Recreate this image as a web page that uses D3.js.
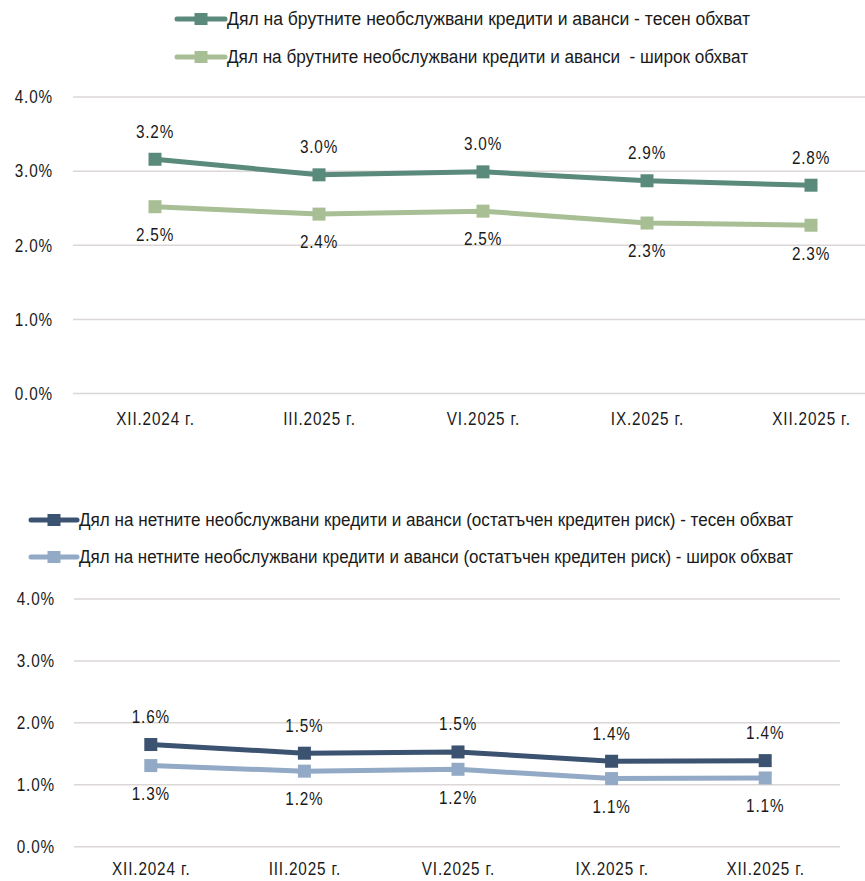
<!DOCTYPE html>
<html><head><meta charset="utf-8">
<script src="https://cdn.jsdelivr.net/npm/d3@7"></script>
<style>
html,body{margin:0;padding:0;background:#fff;}
text{font-family:"Liberation Sans",Arial,sans-serif;fill:#1a1a1a;}
</style></head>
<body>
<script>
const categories = ["XII.2024 г.", "III.2025 г.", "VI.2025 г.", "IX.2025 г.", "XII.2025 г."];
const yTicks = [0, 1, 2, 3, 4];

const grossNarrowName = "Дял на брутните необслужвани кредити и аванси - тесен обхват";
const grossBroadName = "Дял на брутните необслужвани кредити и аванси  - широк обхват";
const grossNarrow = [3.16, 2.95, 2.99, 2.87, 2.81];
const grossBroad = [2.52, 2.42, 2.46, 2.30, 2.27];
const grossLabelsNarrow = ["3.2%", "3.0%", "3.0%", "2.9%", "2.8%"];
const grossLabelsBroad = ["2.5%", "2.4%", "2.5%", "2.3%", "2.3%"];

const netNarrowName = "Дял на нетните необслужвани кредити и аванси (остатъчен кредитен риск) - тесен обхват";
const netBroadName = "Дял на нетните необслужвани кредити и аванси (остатъчен кредитен риск) - широк обхват";
const netNarrow = [1.65, 1.51, 1.53, 1.38, 1.39];
const netBroad = [1.31, 1.22, 1.25, 1.10, 1.11];
const netLabelsNarrow = ["1.6%", "1.5%", "1.5%", "1.4%", "1.4%"];
const netLabelsBroad = ["1.3%", "1.2%", "1.2%", "1.1%", "1.1%"];

const W = 865, H = 881;
const FS = "18px", LS = "1px", SX = 0.85;
const svg = d3.select("body").append("svg").attr("width", W).attr("height", H);

function panel(cfg) {
  const g = svg.append("g");
  const x = d3.scalePoint().domain(categories).range([cfg.x0, cfg.x1]).padding(0.5);
  const y = d3.scaleLinear().domain([0, 4]).range([cfg.yBottom, cfg.yTop]);
  g.append("g").selectAll("line").data(yTicks).join("line")
    .attr("x1", cfg.x0).attr("x2", cfg.gridEnd)
    .attr("y1", d => y(d)).attr("y2", d => y(d))
    .attr("stroke", "#dcd6d6").attr("stroke-width", 1.5);
  const ya = g.append("g").attr("transform", `translate(${cfg.x0},0)`)
    .call(d3.axisLeft(y).tickValues(yTicks).tickSize(0).tickPadding(cfg.yPad).tickFormat(d => d.toFixed(1) + "%"));
  ya.attr("font-family", null).attr("font-size", null);
  ya.select(".domain").remove();
  ya.selectAll("text").style("font-size", FS).style("letter-spacing", LS).attr("fill", "#1a1a1a")
    .attr("x", -cfg.yPad / SX).attr("transform", `scale(${SX},1)`);
  const xa = g.append("g").attr("transform", `translate(0,${cfg.xLabelY})`)
    .call(d3.axisBottom(x).tickSize(0).tickPadding(0));
  xa.attr("font-family", null).attr("font-size", null);
  xa.select(".domain").remove();
  xa.selectAll("text").style("font-size", FS).style("letter-spacing", LS).attr("fill", "#1a1a1a")
    .attr("dy", "0.35em").attr("transform", `scale(${SX},1)`);

  const line = d3.line().x((d, i) => x(categories[i])).y(d => y(d));
  cfg.series.forEach(s => {
    g.append("path").datum(s.values).attr("d", line)
      .attr("fill", "none").attr("stroke", s.color).attr("stroke-width", 5).attr("stroke-linejoin", "round");
    g.append("g").selectAll("rect").data(s.values).join("rect")
      .attr("x", (d, i) => x(categories[i]) - 6.5).attr("y", d => y(d) - 6.5)
      .attr("width", 13).attr("height", 13).attr("fill", s.color);
    g.append("g").selectAll("text").data(s.values).join("text")
      .attr("transform", (d, i) => `translate(${x(categories[i])},${y(d) + (s.above ? -28 : 28)}) scale(${SX},1)`)
      .attr("dy", "0.35em").attr("text-anchor", "middle")
      .style("font-size", FS).style("letter-spacing", LS)
      .text((d, i) => s.labels[i]);
  });
  cfg.series.forEach((s, k) => {
    const ly = cfg.legendY[k];
    const lg = g.append("g");
    lg.append("line").attr("x1", cfg.legX0).attr("x2", cfg.legX0 + cfg.legLen).attr("y1", ly).attr("y2", ly)
      .attr("stroke", s.color).attr("stroke-width", 5).attr("stroke-linecap", "round");
    lg.append("rect").attr("x", cfg.legX0 + cfg.legLen / 2 - 6.5).attr("y", ly - 6).attr("width", 13).attr("height", 12).attr("fill", s.color);
    lg.append("text").attr("x", cfg.legX0 + cfg.legLen + 2).attr("y", ly).attr("dy", "0.35em")
      .style("font-size", FS).style("white-space", "pre")
      .attr("textLength", cfg.legW[k]).attr("lengthAdjust", "spacingAndGlyphs")
      .text(s.name);
  });
}

panel({
  x0: 73, x1: 893, gridEnd: 865, yTop: 97, yBottom: 393.5, yPad: 20, xLabelY: 419,
  legX0: 177, legLen: 48, legendY: [19, 57], legW: [523, 521],
  series: [
    {name: grossNarrowName, values: grossNarrow, labels: grossLabelsNarrow, color: "#5a8a7b", above: true},
    {name: grossBroadName, values: grossBroad, labels: grossLabelsBroad, color: "#a8bf95", above: false}
  ]
});
panel({
  x0: 74, x1: 842, gridEnd: 840, yTop: 599, yBottom: 846.7, yPad: 19, xLabelY: 869,
  legX0: 31, legLen: 46, legendY: [520, 557], legW: [714, 714],
  series: [
    {name: netNarrowName, values: netNarrow, labels: netLabelsNarrow, color: "#3b5270", above: true},
    {name: netBroadName, values: netBroad, labels: netLabelsBroad, color: "#92aac6", above: false}
  ]
});
</script>
</body></html>
